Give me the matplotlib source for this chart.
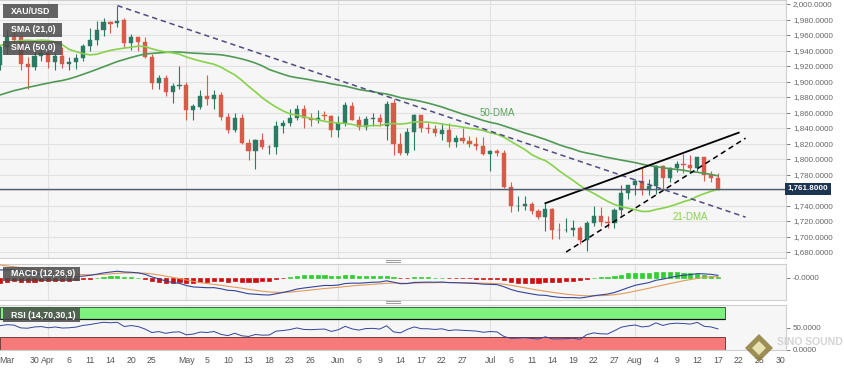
import numpy as np
import pandas as pd
import matplotlib
matplotlib.use("Agg")
import matplotlib.pyplot as plt
from matplotlib.patches import Rectangle, Polygon
from matplotlib.lines import Line2D

plt.rcParams['font.family'] = ['Liberation Sans', 'DejaVu Sans']

W, H = 845, 369

# XAU/USD closes Jan 3 - Mar 22 2022, only used to seed the indicators
hist_closes = [1801, 1814, 1810, 1789, 1797, 1801, 1818, 1826, 1821, 1817,
               1819, 1812, 1840, 1839, 1835, 1843, 1848, 1819, 1797, 1791,
               1797, 1801, 1808, 1805, 1807, 1820, 1826, 1833, 1827, 1860,
               1871, 1853, 1870, 1898, 1898, 1906, 1898, 1910, 1903, 1889,
               1909, 1944, 1922, 1936, 1970, 1998, 2051, 1993, 2000, 1988,
               1951, 1918, 1928, 1943, 1921, 1936, 1921]

# visible daily candles, Mar 23 - Aug 17 2022
opens = [1921, 1944, 1958, 1958, 1923, 1919, 1933,
         1937, 1925, 1933, 1923, 1925, 1931, 1946, 1954, 1966, 1977, 1975, 1979, 1950, 1958,
         1951, 1932, 1898, 1905, 1886, 1894,
         1896, 1863, 1867, 1881, 1877, 1883, 1854, 1838, 1853, 1821, 1811, 1824, 1815, 1816,
         1842, 1846, 1853, 1865, 1853, 1851, 1857, 1855,
         1837, 1847, 1869, 1851, 1841, 1852, 1853, 1842, 1872, 1819, 1808, 1835, 1857, 1840,
         1839, 1832, 1838, 1822, 1827, 1823, 1820, 1817,
         1807, 1811, 1808, 1764, 1739, 1740, 1742, 1733, 1725, 1735, 1709, 1708, 1709, 1711,
         1696, 1718, 1727, 1719, 1717, 1734, 1756,
         1766, 1772, 1760, 1765, 1791, 1775, 1789, 1794, 1792, 1789, 1802, 1779, 1775]
highs = [1947, 1966, 1966, 1960, 1932, 1940, 1950,
         1940, 1937, 1944, 1932, 1936, 1948, 1969, 1978, 1982, 1978, 1998, 1982, 1961, 1958,
         1958, 1936, 1908, 1908, 1898, 1920,
         1899, 1871, 1889, 1909, 1889, 1886, 1859, 1859, 1858, 1826, 1826, 1833, 1818, 1849,
         1850, 1865, 1870, 1870, 1859, 1863, 1862, 1857,
         1855, 1874, 1874, 1855, 1855, 1860, 1858, 1875, 1877, 1833, 1840, 1858, 1857, 1846,
         1844, 1847, 1847, 1831, 1840, 1830, 1829, 1829,
         1812, 1813, 1812, 1770, 1752, 1752, 1745, 1736, 1745, 1737, 1717, 1724, 1721, 1714,
         1720, 1739, 1738, 1727, 1737, 1767, 1767,
         1774, 1788, 1774, 1792, 1792, 1790, 1797, 1807, 1805, 1802, 1802, 1785, 1782]
lows = [1915, 1935, 1946, 1915, 1890, 1915, 1926,
        1917, 1915, 1917, 1915, 1916, 1926, 1940, 1947, 1959, 1962, 1970, 1945, 1941, 1940,
        1930, 1891, 1891, 1881, 1872, 1890,
        1850, 1851, 1865, 1870, 1865, 1851, 1833, 1835, 1820, 1799, 1787, 1813, 1807, 1807,
        1834, 1843, 1850, 1840, 1842, 1847, 1850, 1829,
        1828, 1842, 1850, 1837, 1837, 1843, 1843, 1825, 1805, 1805, 1805, 1812, 1835, 1834,
        1830, 1825, 1816, 1816, 1821, 1816, 1812, 1805,
        1784, 1804, 1763, 1732, 1733, 1734, 1729, 1722, 1707, 1697, 1697, 1706, 1701, 1690,
        1681, 1713, 1714, 1711, 1711, 1728, 1748,
        1754, 1754, 1754, 1755, 1760, 1771, 1783, 1782, 1784, 1785, 1772, 1771, 1760]
closes = [1944, 1958, 1954, 1923, 1919, 1933, 1937,
          1925, 1933, 1923, 1925, 1931, 1946, 1954, 1966, 1977, 1974, 1978, 1950, 1958, 1951,
          1932, 1898, 1905, 1886, 1894, 1896,
          1863, 1868, 1881, 1877, 1883, 1854, 1838, 1853, 1821, 1811, 1824, 1815, 1816, 1842,
          1846, 1853, 1865, 1853, 1851, 1853, 1855, 1837,
          1847, 1870, 1851, 1841, 1852, 1853, 1848, 1871, 1819, 1808, 1835, 1857, 1840, 1839,
          1833, 1838, 1822, 1827, 1823, 1820, 1817, 1807,
          1811, 1808, 1764, 1739, 1740, 1742, 1733, 1725, 1735, 1709, 1708, 1709, 1711, 1696,
          1718, 1727, 1719, 1717, 1734, 1756, 1766,
          1772, 1760, 1765, 1791, 1775, 1789, 1794, 1792, 1789, 1802, 1779, 1775, 1761.8]

last_price = 1761.8

tick_dates = ['2022-03-24', '2022-03-30', '2022-04-01', '2022-04-06', '2022-04-11',
              '2022-04-14', '2022-04-20', '2022-04-25', '2022-05-02', '2022-05-05',
              '2022-05-10', '2022-05-13', '2022-05-18', '2022-05-23', '2022-05-26',
              '2022-06-01', '2022-06-06', '2022-06-09', '2022-06-14', '2022-06-17',
              '2022-06-22', '2022-06-27', '2022-07-01', '2022-07-06', '2022-07-11',
              '2022-07-14', '2022-07-19', '2022-07-22', '2022-07-27', '2022-08-01',
              '2022-08-04', '2022-08-09', '2022-08-12', '2022-08-17', '2022-08-22',
              '2022-08-25', '2022-08-30']
tick_labels = ['Mar', '30', 'Apr', '6', '11', '14', '20', '25', 'May', '5', '10', '13',
               '18', '23', '26', 'Jun', '6', '9', '14', '17', '22', '27', 'Jul', '6', '11',
               '14', '19', '22', '27', 'Aug', '4', '9', '12', '17', '22', '25', '30']
month_starts = ['2022-04-01', '2022-05-02', '2022-06-01', '2022-07-01', '2022-08-01']

# hand drawn lines on the chart
falling_dates, falling_prices = ['2022-04-18', '2022-08-23'], [1998, 1725]
chan_top_dates, chan_top_prices = ['2022-07-13', '2022-08-22'], [1743, 1834]
chan_bot_dates, chan_bot_prices = ['2022-07-18', '2022-08-23'], [1680, 1827]

# trading days (Good Friday closed), running a bit into the future for the axis
days = pd.bdate_range('2022-03-23', '2022-09-02')
days = days[days != pd.Timestamp('2022-04-15')]
pos = {d.strftime('%Y-%m-%d'): i for i, d in enumerate(days)}
n = len(closes)
xs = np.arange(n)

# indicators
s = pd.Series(hist_closes + closes, dtype=float)
sma21 = s.rolling(21).mean().values[-n:]
sma50 = s.rolling(50).mean().values[-n:]
macd = s.ewm(span=12, adjust=False).mean() - s.ewm(span=26, adjust=False).mean()
signal = macd.ewm(span=9, adjust=False).mean()
macd_hist = (macd - signal).values[-n:]
macd, signal = macd.values[-n:], signal.values[-n:]
delta = s.diff()
gain = delta.clip(lower=0).ewm(alpha=1 / 14, adjust=False).mean()
loss = (-delta.clip(upper=0)).ewm(alpha=1 / 14, adjust=False).mean()
rsi = (100 - 100 / (1 + gain / loss)).values[-n:]


def box(x0, y0, x1, y1):
    return [x0 / W, 1 - y1 / H, (x1 - x0) / W, (y1 - y0) / H]


fig = plt.figure(figsize=(W / 100, H / 100), dpi=100)
ax = fig.add_axes(box(0, 0, 786, 258))
ax_macd = fig.add_axes(box(0, 264, 786, 300), sharex=ax)
ax_rsi = fig.add_axes(box(0, 305, 786, 350), sharex=ax)

bg = '#f6f6f6'
grid_c = '#e2e2e2'
up_c, down_c = '#2b7a63', '#d65b48'

for a in (ax, ax_macd, ax_rsi):
    a.set_facecolor(bg)
    a.yaxis.tick_right()
    a.tick_params(axis='y', labelsize=5.8, colors='#666666', length=3, width=0.6, pad=2)
    a.tick_params(axis='x', length=0)
    for sp in a.spines.values():
        sp.set_color('#cfcfcf')
        sp.set_linewidth(0.8)
    a.spines['left'].set_visible(False)
    for d in month_starts:
        a.axvline(pos[d], color=grid_c, lw=0.8, zorder=0)

ax.set_xlim(0, 113.85)

# candles
for i in xs:
    o, h, l, c = opens[i], highs[i], lows[i], closes[i]
    col = up_c if c >= o else down_c
    ax.vlines(i, l, h, color=col, lw=0.8, zorder=3)
    ax.add_patch(Rectangle((i - 0.3, min(o, c)), 0.6, max(abs(c - o), 0.8),
                           facecolor=col, edgecolor=col, lw=0.3, zorder=4))

ax.plot(xs, sma50, color='#4f9a55', lw=1.2, zorder=5)
ax.plot(xs, sma21, color='#86d24a', lw=1.2, zorder=5)

ax.plot([pos[d] for d in falling_dates], falling_prices, color='#4d4d80',
        lw=1.1, dashes=(3.5, 2.5), zorder=6)
ax.plot([pos[d] for d in chan_top_dates], chan_top_prices, color='black', lw=1.3, zorder=6)
ax.plot([pos[d] for d in chan_bot_dates], chan_bot_prices, color='black',
        lw=1.1, dashes=(3.5, 2.5), zorder=6)

ax.text(pos['2022-07-04'], 1859, '50-DMA', color='#5aa35c', fontsize=7,
        ha='center', va='center', zorder=7)
ax.text(pos['2022-08-11'], 1725, '21-DMA', color='#86d24a', fontsize=7,
        ha='center', va='center', zorder=7)

price_ticks = np.arange(1680, 2001, 20)
ax.set_ylim(1672.3, 2005.2)
ax.set_yticks(price_ticks)
# the 1,760 label sits under the last price tag
ax.set_yticklabels(['' if v == 1760 else f'{v:,.4f}' for v in price_ticks])
ax.grid(axis='y', color=grid_c, lw=0.8, zorder=0)
ax.set_axisbelow(True)
ax.tick_params(axis='x', labelbottom=False)

ax.axhline(last_price, color='#4f5e6e', lw=1.0, zorder=8)
ax.text(1.002, last_price, '1,761.8000', transform=ax.get_yaxis_transform(),
        ha='left', va='center', color='white', fontsize=5.8, weight='bold', zorder=20,
        clip_on=False,
        bbox=dict(boxstyle='square,pad=0.3', fc='#1c3553', ec='none'))

# MACD panel
unit = 20 / -macd.min()
hist_k = 6 / (unit * np.abs(macd_hist).max())
hist_cols = ['#2fcf2f' if v >= 0 else '#cc1010' for v in macd_hist]
ax_macd.bar(xs, macd_hist * hist_k, width=0.6, color=hist_cols, edgecolor=hist_cols,
            lw=0.5, zorder=2)
ax_macd.plot(xs, signal, color='#e39a5c', lw=0.8, zorder=3)
ax_macd.plot(xs, macd, color='#34449a', lw=0.8, zorder=4)
ax_macd.set_ylim(-22 / unit, 14 / unit)
ax_macd.set_yticks([0])
ax_macd.set_yticklabels(['-0.0000'])
ax_macd.tick_params(axis='x', labelbottom=False)

# RSI panel
ax_rsi.add_patch(Rectangle((0, 70), n + 0.05, 26.5, facecolor='#7ef27e', edgecolor='#2a4a2a',
                           lw=0.6, zorder=1))
ax_rsi.add_patch(Rectangle((0, 0.5), n + 0.05, 29.5, facecolor='#f77a7a', edgecolor='#5a2a2a',
                           lw=0.6, zorder=1))
ax_rsi.hlines(70, 0, n + 0.05, color='#111111', lw=0.9, zorder=2)
ax_rsi.plot(xs, rsi, color='#34449a', lw=0.7, zorder=3)
ax_rsi.set_ylim(0, 100)
ax_rsi.set_yticks([0, 50])
ax_rsi.set_yticklabels(['0.0000', '50.0000'])
ax_rsi.set_xticks([pos[d] for d in tick_dates])
ax_rsi.set_xticklabels(tick_labels)
ax_rsi.tick_params(axis='x', labelsize=6.3, colors='#555555', pad=4)

# label boxes on the panels
labels = [('XAU/USD', 3, 4, 58, 18), ('SMA (21,0)', 3, 23, 62, 37),
          ('SMA (50,0)', 3, 41, 62, 55), ('MACD (12,26,9)', 3, 267, 80, 281),
          ('RSI (14,70,30,1)', 3, 308, 80, 322)]
for txt, x0, y0, x1, y1 in labels:
    fig.patches.append(Rectangle((x0 / W, 1 - y1 / H), (x1 - x0) / W, (y1 - y0) / H,
                                 transform=fig.transFigure, facecolor='#4a4a4a',
                                 alpha=0.85, edgecolor='none', zorder=5))
    fig.text((x0 + 8) / W, 1 - (y0 + y1) / 2 / H, txt, color='white', fontsize=6.3,
             weight='bold', va='center', ha='left', zorder=6)

# little panel separators
for yy in (260, 262, 301, 303):
    fig.add_artist(Line2D([386 / W, 400 / W], [1 - yy / H] * 2, color='#9a9a9a', lw=0.7))

# watermark
cx, cy = 759, 348
fig.patches.append(Polygon([((cx - 14) / W, 1 - cy / H), (cx / W, 1 - (cy - 14) / H),
                            ((cx + 14) / W, 1 - cy / H), (cx / W, 1 - (cy + 14) / H)],
                           closed=True, transform=fig.transFigure, facecolor='#8c7c38',
                           edgecolor='none', alpha=0.85, zorder=8))
fig.patches.append(Polygon([((cx - 7) / W, 1 - cy / H), (cx / W, 1 - (cy - 7) / H),
                            ((cx + 7) / W, 1 - cy / H), (cx / W, 1 - (cy + 7) / H)],
                           closed=True, transform=fig.transFigure, facecolor='#e8e2b0',
                           edgecolor='none', zorder=9))
fig.text(777 / W, 1 - 342 / H, 'SINO SOUND', color='#d4d4d4', fontsize=7.5, weight='bold',
         va='center', ha='left', zorder=10)

fig.savefig('out.png', dpi=100, facecolor='white')
